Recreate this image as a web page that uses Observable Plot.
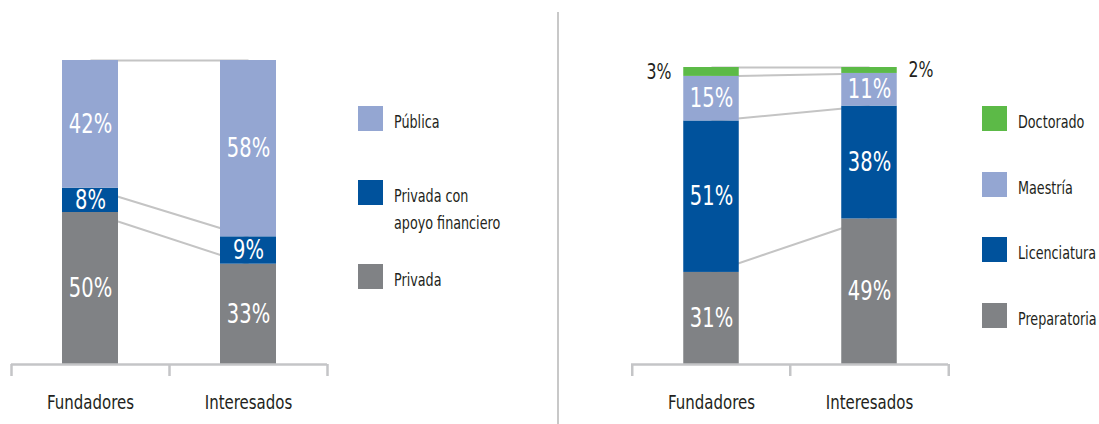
<!DOCTYPE html>
<html><head><meta charset="utf-8">
<script src="https://cdn.jsdelivr.net/npm/d3@7"></script>
<script src="https://cdn.jsdelivr.net/npm/@observablehq/plot@0.6"></script>
<style>
body{margin:0;background:#fff;}
#wrap{position:relative;width:1099px;height:424px;overflow:hidden;font-family:"DejaVu Sans Condensed","Liberation Sans Narrow",sans-serif;}
.panel{position:absolute;top:0;}
.divider{position:absolute;left:557px;top:12px;width:2px;height:412px;background:#c8c8c8;}
.leg{position:absolute;display:flex;align-items:flex-start;}
.sw{width:25px;height:25px;flex:none;}
.lt{font-size:17px;color:#231f20;line-height:27px;margin-left:11px;margin-top:3px;white-space:nowrap;transform-origin:left center;}
</style></head><body><div id="wrap"></div>
<script>
// ---- data ----
const categories = ["Fundadores", "Interesados"];

const tipoSeries = ["Privada", "Privada con apoyo financiero", "Pública"];
const tipoFundadores = [50, 8, 42];
const tipoInteresados = [33, 9, 58];
const tipoColors = ["#808285", "#00529c", "#94a6d2"];
const tipoLegendLabels = ["Privada", "Privada con<br>apoyo financiero", "Pública"];

const nivelSeries = ["Preparatoria", "Licenciatura", "Maestría", "Doctorado"];
const nivelFundadores = [31, 51, 15, 3];
const nivelInteresados = [49, 38, 11, 2];
const nivelColors = ["#808285", "#00529c", "#94a6d2", "#5cba47"];
const nivelLegendLabels = ["Preparatoria", "Licenciatura", "Maestría", "Doctorado"];

// ---- layout ----
const FONT = '"DejaVu Sans Condensed","Liberation Sans Narrow",sans-serif';
const wrap = document.getElementById("wrap");

// horizontal compression to mimic a condensed face
const ctx = document.createElement("canvas").getContext("2d");
ctx.font = `20px ${FONT}`;
const SX = Math.min(1, 87 / ctx.measureText("Fundadores").width);

function condense(svg) {
  svg.querySelectorAll("text").forEach(t => {
    const tr = t.getAttribute("transform") || "";
    t.setAttribute("transform", `${tr} scale(${SX},1)`);
  });
}

function buildRows(series, valuesByCat) {
  const rows = [];
  categories.forEach((cat, ci) => {
    let cum = 0;
    series.forEach((s, si) => {
      const v = valuesByCat[ci][si];
      rows.push({cat, serie: s, value: v, mid: cum + v / 2, top: cum + v});
      cum += v;
    });
  });
  return rows;
}

function panel({series, valuesByCat, colors, left, width, marginLeft, marginRight, marginTop, barWidth, outside}) {
  const rows = buildRows(series, valuesByCat);
  const bw = (width - marginLeft - marginRight) / categories.length;
  const inset = (bw - barWidth) / 2;
  const half = barWidth / 2;
  const links = series.map((s) => ({
    a: rows.find(r => r.cat === categories[0] && r.serie === s).top,
    b: rows.find(r => r.cat === categories[1] && r.serie === s).top
  }));
  const inside = rows.filter(r => r.serie !== outside);
  const outL = rows.filter(r => r.serie === outside && r.cat === categories[0]);
  const outR = rows.filter(r => r.serie === outside && r.cat === categories[1]);
  const axisStroke = "#c4c5c7";
  const svg = Plot.plot({
    width, height: 424,
    marginLeft, marginRight, marginTop, marginBottom: 60,
    x: {domain: categories, padding: 0},
    y: {domain: [0, 100], axis: null},
    color: {domain: series, range: colors},
    style: {fontFamily: FONT, fontSize: "20px", color: "#231f20", background: "transparent"},
    marks: [
      Plot.link(links, {x1: () => categories[0], x2: () => categories[1], y1: "a", y2: "b", stroke: "#c4c4c4", strokeWidth: 2}),
      Plot.barY(rows, {x: "cat", y1: d => d.top - d.value, y2: "top", fill: "serie", insetLeft: inset, insetRight: inset}),
      Plot.text(inside, {x: "cat", y: "mid", text: d => d.value + "%", fill: "white", fontSize: 26}),
      Plot.text(outL, {x: "cat", y: "mid", text: d => d.value + "%", fill: "#231f20", fontSize: 21, textAnchor: "end", dx: -(half + 12)}),
      Plot.text(outR, {x: "cat", y: "mid", text: d => d.value + "%", fill: "#231f20", fontSize: 21, textAnchor: "start", dx: half + 11}),
      Plot.ruleY([0], {stroke: axisStroke, strokeWidth: 2.5}),
      Plot.ruleX(categories, {x: d => d, dx: -bw / 2, y1: 0, y2: 0, insetBottom: -12, stroke: axisStroke, strokeWidth: 2.5}),
      Plot.ruleX(categories.slice(-1), {x: d => d, dx: bw / 2, y1: 0, y2: 0, insetBottom: -12, stroke: axisStroke, strokeWidth: 2.5}),
      Plot.axisX({tickSize: 0, tickPadding: 30, label: null, fontSize: 20, fill: "#231f20"})
    ]
  });
  condense(svg);
  svg.classList.add("panel");
  svg.style.left = left + "px";
  wrap.appendChild(svg);
}

function legend(series, labels, colors, x, tops) {
  series.forEach((s, i) => {
    const item = document.createElement("div");
    item.className = "leg";
    item.style.left = x + "px";
    item.style.top = tops[i] + "px";
    item.innerHTML = `<div class="sw" style="background:${colors[i]}"></div><div class="lt" style="transform:scaleX(${SX})">${labels[i]}</div>`;
    wrap.appendChild(item);
  });
}

panel({series: tipoSeries, valuesByCat: [tipoFundadores, tipoInteresados], colors: tipoColors,
  left: 0, width: 340, marginLeft: 11, marginRight: 13, marginTop: 60, barWidth: 56, outside: null});
panel({series: nivelSeries, valuesByCat: [nivelFundadores, nivelInteresados], colors: nivelColors,
  left: 560, width: 400, marginLeft: 71, marginRight: 12, marginTop: 67, barWidth: 56, outside: "Doctorado"});

const div = document.createElement("div");
div.className = "divider";
wrap.appendChild(div);

legend(tipoSeries, tipoLegendLabels, tipoColors, 358, [264, 180, 106]);
legend(nivelSeries, nivelLegendLabels, nivelColors, 982, [303, 237, 172, 106]);
</script>
</body></html>
